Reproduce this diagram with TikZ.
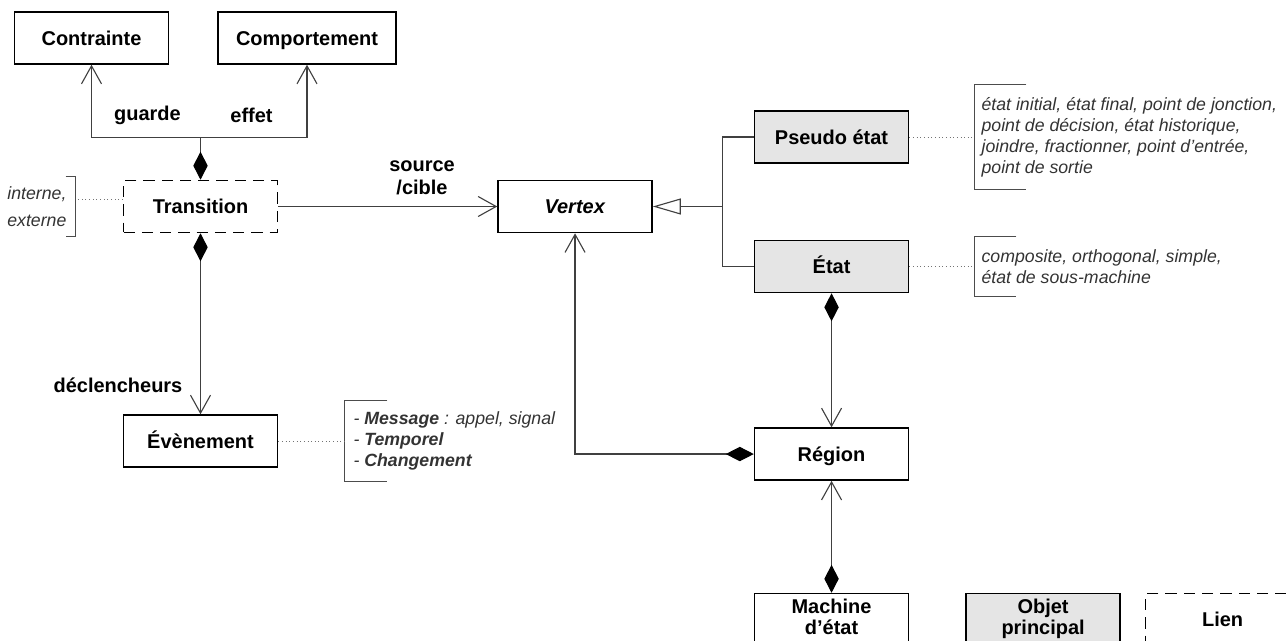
\documentclass[tikz,border=0pt]{standalone}
\usepackage{fontspec}
\setmainfont{Liberation Sans}
\usepackage{xcolor}
\usetikzlibrary{arrows.meta, positioning, calc}

\newcommand{\clsfont}{\fontsize{14.2}{15}\selectfont\bfseries}
\newcommand{\notefont}{\fontsize{12.6}{14.9}\selectfont\itshape}
\newcommand{\clsstrut}{\rule[-0.25em]{0pt}{1.216em}}

\begin{document}
\begin{tikzpicture}[
        node distance=1cm and 1cm,
        cls/.style={rectangle, draw, line width=1.1pt, minimum width=3.85cm,
            minimum height=1.3cm, align=center, font=\clsfont, inner sep=2pt,
            execute at begin node=\clsstrut, execute at end node=\clsstrut},
        main/.style={cls, fill=gray!20},
        link/.style={cls, dash pattern=on 8pt off 5pt},
        lbl/.style={font=\clsfont, align=center, inner sep=0pt},
        note/.style={font=\notefont, align=left, text=black!80, inner xsep=0.175cm},
        bracket/.style={draw=black!70, line width=0.8pt},
        dots/.style={draw=black!55, dotted, line width=0.6pt},
        assoc/.style={-{Straight Barb[length=4.5mm, width=5mm]}, draw=black!75, line width=0.8pt},
        comp/.style={{Diamond[length=7mm, width=3.6mm, color=black]}-{Straight Barb[length=4.5mm, width=5mm]},
            draw=black!75, line width=0.8pt},
        compend/.style={{Straight Barb[length=4.5mm, width=5mm]}-{Diamond[length=7mm, width=3.6mm, color=black]},
            draw=black!75, line width=0.8pt},
        owner/.style={{Diamond[length=7mm, width=3.6mm, color=black]}-, draw=black!75, line width=0.8pt},
        gen/.style={-{Triangle[open, length=7mm, width=4mm, fill=white]}, draw=black!75, line width=0.8pt}
    ]
        \useasboundingbox (0,0) rectangle (32.15,-16.025);

        \node[link] (trans) at (5.0125,-5.1625) {Transition};
        \node[cls, above=2.875cm of trans, xshift=-2.725cm] (contrainte) {Contrainte};
        \node[cls, above=2.875cm of trans, xshift=2.6625cm, minimum width=4.45cm] (comportement) {Comportement};
        \node[cls, right=5.475cm of trans] (vertex) {\textit{Vertex}};
        \node[cls, below=4.525cm of trans] (evenement) {Évènement};
        \node[cls, below=4.85cm of vertex, xshift=6.4125cm] (region) {Région};
        \node[main, above=3.35cm of region] (etat) {État};
        \node[main, above=1.9cm of etat] (pseudo) {Pseudo état};
        \node[cls, below=2.8cm of region] (machine) {Machine\\d’état};
        \node[main, right=1.4cm of machine] (objet) {Objet\\principal};
        \node[link, right=0.6cm of objet] (lien) {Lien};

        \coordinate[above=1.05cm of trans] (fork);
        \coordinate[right=1.75cm of vertex] (gjoin);

        \node[lbl] (guarde) at (3.6875,-2.875) {guarde};
        \node[lbl] (effet) at (6.2875,-2.875) {effet};
        \node[lbl] (srccible) at (10.55,-4.4375) {source\\[1.5pt]/cible};
        \node[lbl] (declencheurs) at (2.95,-9.625) {déclencheurs};

        \node[note, left=1.175cm of trans, minimum height=1.475cm, inner xsep=0.225cm] (transnote)
            {interne,\\[4pt]externe};
        \node[note, right=1.625cm of pseudo, minimum height=2.6cm] (pseudonote)
            {état initial, état final, point de jonction,\\point de décision, état historique,\\joindre, fractionner, point d'entrée,\\point de sortie};
        \node[note, right=1.625cm of etat, minimum height=1.5cm] (etatnote)
            {composite, orthogonal, simple,\\état de sous-machine};
        \node[note, right=1.65cm of evenement, minimum height=2.025cm, inner xsep=0.225cm] (evnote)
            {- \textbf{Message} : appel, signal\\- \textbf{Temporel}\\- \textbf{Changement}};

        \draw[bracket] ([xshift=-0.25cm]transnote.north east) -- (transnote.north east)
            -- (transnote.south east) -- ++(-0.25cm,0);
        \draw[bracket] ([xshift=1.3cm]pseudonote.north west) -- (pseudonote.north west)
            -- (pseudonote.south west) -- ++(1.3cm,0);
        \draw[bracket] ([xshift=1.05cm]etatnote.north west) -- (etatnote.north west)
            -- (etatnote.south west) -- ++(1.05cm,0);
        \draw[bracket] ([xshift=1.075cm]evnote.north west) -- (evnote.north west)
            -- (evnote.south west) -- ++(1.075cm,0);

        \draw[dots] ([yshift=0.18cm]trans.west) -- ([yshift=0.18cm]trans.west -| transnote.east);
        \draw[dots] (pseudo.east) -- (pseudonote.west);
        \draw[dots] (etat.east) -- (etatnote.west);
        \draw[dots] (evenement.east) -- (evnote.west);

        \draw[owner] (trans.north) -- (fork);
        \draw[assoc] (fork) -| (contrainte.south);
        \draw[assoc] (fork) -| (comportement.south);
        \draw[assoc] (trans.east) -- (vertex.west);
        \draw[comp] (trans.south) -- (evenement.north);
        \draw[gen] (gjoin) -- (vertex.east);
        \draw[draw=black!75, line width=0.8pt] (pseudo.west) -| (gjoin) |- (etat.west);
        \draw[comp] (etat.south) -- (region.north);
        \draw[comp] (region.west) -| (vertex.south);
        \draw[compend] (region.south) -- (machine.north);
    \end{tikzpicture}
\end{document}
